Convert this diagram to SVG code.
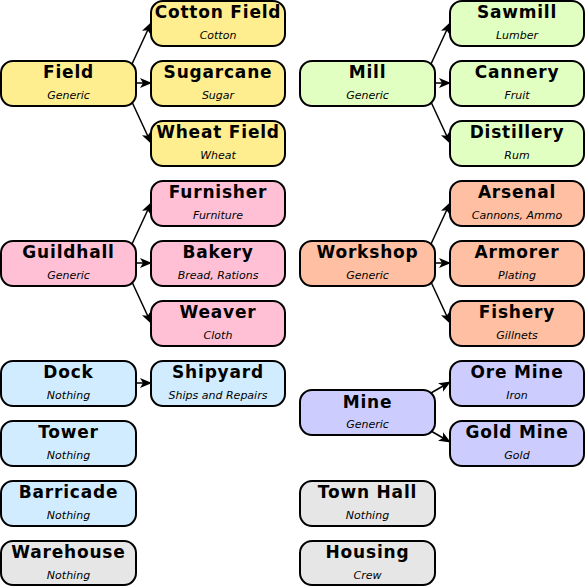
<svg xmlns="http://www.w3.org/2000/svg" width="586" height="586" viewBox="0 0 586 586">
<style>
.n rect{stroke:#000;stroke-width:2}
.t{font-family:"DejaVu Sans",sans-serif;font-weight:bold;font-size:17px;text-anchor:middle;letter-spacing:0.8px}
.s{font-family:"DejaVu Sans",sans-serif;font-style:italic;font-size:11px;text-anchor:middle}
.y{fill:#ffee90}.g{fill:#e0ffc0}.p{fill:#ffc0d5}.o{fill:#ffbfa2}.b{fill:#d2ecff}.v{fill:#ccccff}.w{fill:#e6e6e6}
#edges path{stroke:#000;stroke-width:1.5;fill:none;marker-end:url(#ah)}
</style>
<defs>
<marker id="ah" viewBox="0 0 12 10" refX="11" refY="5" markerWidth="12" markerHeight="10" markerUnits="userSpaceOnUse" orient="auto">
<path d="M0,0 L12,5 L0,10 L3,5 Z" fill="#000"/>
</marker>
</defs>
<rect width="586" height="586" fill="#fff"/>
<g id="edges">
<path d="M132,64 L151,23"/>
<path d="M136,83 L151,83"/>
<path d="M132,102 L151,143"/>
<path d="M431,64 L450,23"/>
<path d="M435,83 L450,83"/>
<path d="M431,102 L450,143"/>
<path d="M132,244 L151,203"/>
<path d="M136,263 L151,263"/>
<path d="M132,282 L151,323"/>
<path d="M431,244 L450,203"/>
<path d="M435,263 L450,263"/>
<path d="M431,282 L450,323"/>
<path d="M136,383 L151,383"/>
<path d="M431,393 L450,382"/>
<path d="M431,431 L450,442"/>
</g>
<g id="field" class="n"><rect class="y" x="1" y="61" width="135" height="45" rx="12"/><text class="t" x="68.5" y="78">Field</text><text class="s" x="68.5" y="99">Generic</text></g>
<g id="cotton" class="n"><rect class="y" x="151" y="1" width="134" height="45" rx="12"/><text class="t" x="218" y="18">Cotton Field</text><text class="s" x="218" y="39">Cotton</text></g>
<g id="sugarcane" class="n"><rect class="y" x="151" y="61" width="134" height="45" rx="12"/><text class="t" x="218" y="78">Sugarcane</text><text class="s" x="218" y="99">Sugar</text></g>
<g id="wheat" class="n"><rect class="y" x="151" y="121" width="134" height="45" rx="12"/><text class="t" x="218" y="138">Wheat Field</text><text class="s" x="218" y="159">Wheat</text></g>
<g id="mill" class="n"><rect class="g" x="300" y="61" width="135" height="45" rx="12"/><text class="t" x="367.5" y="78">Mill</text><text class="s" x="367.5" y="99">Generic</text></g>
<g id="sawmill" class="n"><rect class="g" x="450" y="1" width="134" height="45" rx="12"/><text class="t" x="517" y="18">Sawmill</text><text class="s" x="517" y="39">Lumber</text></g>
<g id="cannery" class="n"><rect class="g" x="450" y="61" width="134" height="45" rx="12"/><text class="t" x="517" y="78">Cannery</text><text class="s" x="517" y="99">Fruit</text></g>
<g id="distillery" class="n"><rect class="g" x="450" y="121" width="134" height="45" rx="12"/><text class="t" x="517" y="138">Distillery</text><text class="s" x="517" y="159">Rum</text></g>
<g id="guildhall" class="n"><rect class="p" x="1" y="241" width="135" height="45" rx="12"/><text class="t" x="68.5" y="258">Guildhall</text><text class="s" x="68.5" y="279">Generic</text></g>
<g id="furnisher" class="n"><rect class="p" x="151" y="181" width="134" height="45" rx="12"/><text class="t" x="218" y="198">Furnisher</text><text class="s" x="218" y="219">Furniture</text></g>
<g id="bakery" class="n"><rect class="p" x="151" y="241" width="134" height="45" rx="12"/><text class="t" x="218" y="258">Bakery</text><text class="s" x="218" y="279">Bread, Rations</text></g>
<g id="weaver" class="n"><rect class="p" x="151" y="301" width="134" height="45" rx="12"/><text class="t" x="218" y="318">Weaver</text><text class="s" x="218" y="339">Cloth</text></g>
<g id="workshop" class="n"><rect class="o" x="300" y="241" width="135" height="45" rx="12"/><text class="t" x="367.5" y="258">Workshop</text><text class="s" x="367.5" y="279">Generic</text></g>
<g id="arsenal" class="n"><rect class="o" x="450" y="181" width="134" height="45" rx="12"/><text class="t" x="517" y="198">Arsenal</text><text class="s" x="517" y="219">Cannons, Ammo</text></g>
<g id="armorer" class="n"><rect class="o" x="450" y="241" width="134" height="45" rx="12"/><text class="t" x="517" y="258">Armorer</text><text class="s" x="517" y="279">Plating</text></g>
<g id="fishery" class="n"><rect class="o" x="450" y="301" width="134" height="45" rx="12"/><text class="t" x="517" y="318">Fishery</text><text class="s" x="517" y="339">Gillnets</text></g>
<g id="dock" class="n"><rect class="b" x="1" y="361" width="135" height="45" rx="12"/><text class="t" x="68.5" y="378">Dock</text><text class="s" x="68.5" y="399">Nothing</text></g>
<g id="shipyard" class="n"><rect class="b" x="151" y="361" width="134" height="45" rx="12"/><text class="t" x="218" y="378">Shipyard</text><text class="s" x="218" y="399">Ships and Repairs</text></g>
<g id="tower" class="n"><rect class="b" x="1" y="421" width="135" height="45" rx="12"/><text class="t" x="68.5" y="438">Tower</text><text class="s" x="68.5" y="459">Nothing</text></g>
<g id="barricade" class="n"><rect class="b" x="1" y="481" width="135" height="45" rx="12"/><text class="t" x="68.5" y="498">Barricade</text><text class="s" x="68.5" y="519">Nothing</text></g>
<g id="warehouse" class="n"><rect class="w" x="1" y="541" width="135" height="44" rx="12"/><text class="t" x="68.5" y="558">Warehouse</text><text class="s" x="68.5" y="579">Nothing</text></g>
<g id="mine" class="n"><rect class="v" x="300" y="390" width="135" height="45" rx="12"/><text class="t" x="367.5" y="408">Mine</text><text class="s" x="367.5" y="428">Generic</text></g>
<g id="oremine" class="n"><rect class="v" x="450" y="361" width="134" height="45" rx="12"/><text class="t" x="517" y="378">Ore Mine</text><text class="s" x="517" y="399">Iron</text></g>
<g id="goldmine" class="n"><rect class="v" x="450" y="421" width="134" height="45" rx="12"/><text class="t" x="517" y="438">Gold Mine</text><text class="s" x="517" y="459">Gold</text></g>
<g id="townhall" class="n"><rect class="w" x="300" y="481" width="135" height="45" rx="12"/><text class="t" x="367.5" y="498">Town Hall</text><text class="s" x="367.5" y="519">Nothing</text></g>
<g id="housing" class="n"><rect class="w" x="300" y="541" width="135" height="44" rx="12"/><text class="t" x="367.5" y="558">Housing</text><text class="s" x="367.5" y="579">Crew</text></g>
</svg>
